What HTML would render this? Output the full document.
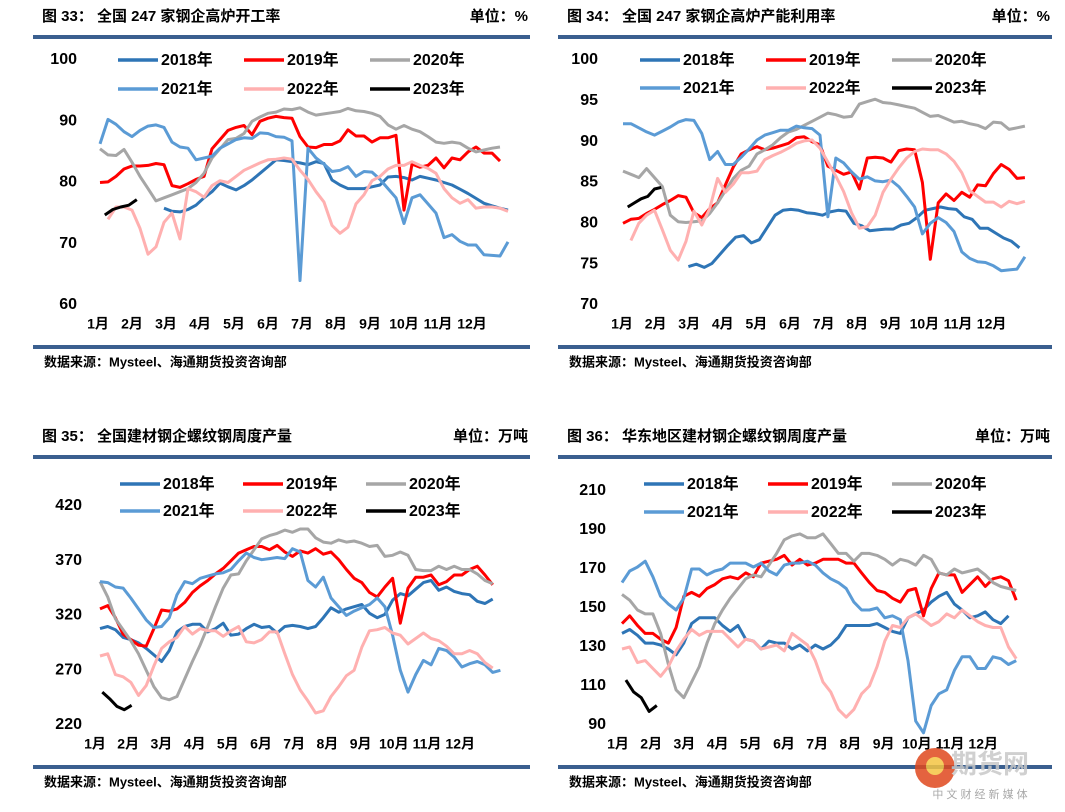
<!DOCTYPE html>
<html><head><meta charset="utf-8">
<style>
body{margin:0;width:1065px;height:812px;background:#fff;overflow:hidden;font-family:"Liberation Sans","Noto Sans CJK SC",sans-serif;}
svg{position:absolute;left:0;top:0}
</style></head>
<body>
<svg id="root" width="1065" height="812" viewBox="0 0 1065 812"></svg>
<script>
// ---------- data (weekly values; each series starts at its start week) ----------
const years = ["2018年","2019年","2020年","2021年","2022年","2023年"];
const months = ["1月","2月","3月","4月","5月","6月","7月","8月","9月","10月","11月","12月"];

const c1Ticks = [60,70,80,90,100];
const c1Start = [8,0,0,0,1,0.6];
const c1_2018 = [75.8,75.3,75.2,75.6,76.3,77.5,78.5,79.9,79.3,78.8,79.5,80.4,81.5,82.6,83.7,83.6,83.4,83.2,82.9,83.4,83.1,80.4,79.6,79,79,79,79.3,79.6,80.9,81,80.8,80.4,81,80.7,80.4,80,79.6,78.9,78.2,77.4,76.6,76.2,75.8,75.5];
const c1_2019 = [80,80.1,81,82.2,82.7,82.7,82.8,83.1,82.9,79.5,79.2,79.8,80.5,81,85.5,87,88.5,89,89.3,87.8,90,90.5,90.8,90.6,90.5,87.5,85.8,85.7,86.2,86.2,86.8,88.6,87.6,87.6,86.6,87.3,87.3,87.7,75.5,83,82.5,82.8,84,82.4,84,83.7,85,85.8,84.8,84.8,83.5];
const c1_2020 = [85.5,84.5,84.4,85.4,83.3,81,79,77,77.5,78,78.5,79,80,81.5,84,85.5,87,87.2,88,90,90.7,91.3,91.5,92,91.9,92.2,91.5,91,91.2,91.4,91.6,92.1,91.7,91.6,91.3,90.8,89.4,88.7,89.3,88.7,88.3,87.5,86.6,86.4,86.6,86.4,85.6,85,85.3,85.6,85.8];
const c1_2021 = [86.3,90.3,89.5,88.3,87.5,88.5,89.2,89.4,89,86.6,85.8,85.6,83.7,84,84.3,85.6,86.3,87,87.3,87.2,88.1,88,87.5,87.4,86.8,64,85.6,84,83,81.8,82,82.6,81,81.8,81.7,80.5,79,77.5,73.3,77.5,78,76.5,75,71,71.5,70.4,69.8,69.8,68.2,68.1,68,70.3];
const c1_2022 = [74,76,76,75.5,72.5,68.3,69.5,73.5,75,70.8,79,78.5,77.6,79.5,80.3,80,81,82,82.6,83.2,83.7,83.8,84,83.8,82,80.5,78.5,76.8,73,71.7,72.7,76.5,78,80.3,81,82.2,82.8,82.8,83.4,82.8,82.3,81.5,79,77.5,76.6,77.2,75.8,76,76,75.8,75.3];
const c1_2023 = [74.7,75.6,76,76.3,77.2];

const c2Ticks = [70,75,80,85,90,95,100];
const c2Start = [8.3,0,0,0,1,0.6];
const c2_2018 = [74.7,75,74.6,75.1,76.2,77.3,78.3,78.5,77.6,78,79.5,81,81.6,81.7,81.6,81.3,81.2,81,81.4,81.6,81.5,80,79.7,79.1,79.2,79.3,79.3,79.8,80,80.7,81.6,81.8,82,81.8,81.7,80.8,80.5,79.4,79.4,78.8,78.2,77.8,77];
const c2_2019 = [80,80.5,80.6,81.2,81.7,82.3,82.8,83.4,83.2,81.3,80.7,81.8,82.5,84.7,86.9,88.5,89,89.4,89,89.2,89.5,89.8,90.5,90.6,90,89.6,87,86.5,86,86.3,84.2,88,88.1,88,87.5,88.9,89.1,89,85,75.6,82.5,83.6,82.8,83.8,83.2,84.7,84.6,86.1,87.2,86.6,85.5,85.6];
const c2_2020 = [86.4,86,85.6,86.7,85.6,84.5,81,80.2,80.1,80.2,80.3,81.2,82.5,84,85.5,86.5,87,88.5,89,89.6,90.5,91.2,91.5,92,92.5,93,93.5,93.3,93,93.1,94.6,94.9,95.2,94.8,94.7,94.5,94.3,94.1,93.6,93.1,93.2,92.8,92.4,92.5,92.2,92,91.6,92.4,92.3,91.5,91.7,91.9];
const c2_2021 = [92.2,92.2,91.7,91.2,90.8,91.3,91.8,92.4,92.7,92.6,91,87.8,88.8,87.2,87.2,88.1,89.1,90.2,90.8,91.1,91.4,91.4,91.9,91.7,91.6,90.8,80.8,88,87.4,86.3,85.4,85.7,85.2,85.1,85.3,84.5,83.3,82,78.7,80,80.7,80.1,79,76.5,75.7,75.3,75.2,74.8,74.2,74.3,74.4,75.9];
const c2_2022 = [77.9,80,81,81.6,79.2,76.7,75.5,77.8,81.5,79.8,81.8,85.5,83.8,84.8,86.2,86.2,86.4,87.8,88.3,88.7,89.2,89.8,90.1,90.2,89.2,87.5,85.8,83.9,81.3,79.4,79.6,81,83.8,85.4,86.8,88,88.8,89.1,89,89,88.5,87.6,86.2,84,83.3,82.6,82.6,82,82.7,82.4,82.7];
const c2_2023 = [82,82.5,83,83.3,84.2,84.4];

const c3Ticks = [220,270,320,370,420];
const c3Start = [0,0,0,0,0,0.3];
const c3_2018 = [308,310,307,300,298,295,290,284,278,288,305,310,312,312,305,308,313,302,303,308,312,309,310,304,310,311,310,308,310,318,327,323,326,328,330,322,318,321,334,340,338,344,350,352,343,346,342,340,339,333,331,335];
const c3_2019 = [326,329,318,303,298,293,292,308,325,324,326,332,341,347,352,358,363,370,377,380,383,383,380,384,378,374,379,377,381,376,378,371,362,354,350,341,337,346,354,313,345,355,355,357,348,351,357,357,362,365,357,348];
const c3_2020 = [351,337,317,307,297,285,270,255,245,243,246,262,278,293,310,328,345,357,358,370,380,390,393,395,398,396,399,399,391,387,386,389,387,388,386,383,384,374,375,378,375,362,361,361,365,362,365,362,362,358,352,349];
const c3_2021 = [351,350,346,345,336,326,316,309,310,318,339,351,349,354,356,358,359,362,370,377,373,371,372,373,372,381,378,352,346,355,336,328,320,324,327,330,336,328,302,270,250,266,279,275,290,288,282,273,276,278,275,268,270];
const c3_2022 = [283,285,266,264,259,247,256,274,290,296,300,310,303,308,306,306,301,306,310,296,295,298,305,305,285,266,252,242,231,233,246,255,265,270,291,306,307,309,304,302,294,299,304,299,297,292,285,285,288,285,277,272];
const c3_2023 = [250,244,237,234,238];

const c4Ticks = [90,110,130,150,170,190,210];
const c4Start = [0,0,0,0,0,0.5];
const c4_2018 = [137,139,136,132,132,131,129,126,132,142,145,145,145,141,138,141,134,133,129,133,132,132,129,131,128,131,129,131,135,141,141,141,141,142,140,138,137,145,147,149,153,156,158,152,149,145,146,148,144,142,146];
const c4_2019 = [142,146,141,137,137,134,132,140,156,158,156,160,162,165,166,165,168,166,173,174,175,177,172,175,172,173,175,175,175,173,173,168,163,159,158,155,153,159,160,146,160,168,167,167,158,162,166,161,165,166,164,154];
const c4_2020 = [157,154,149,147,147,137,121,108,104,112,120,132,142,149,155,160,165,167,166,172,178,185,187,188,186,186,188,183,178,178,174,178,178,177,175,172,175,174,172,177,175,168,167,170,168,169,170,167,163,161,160,159];
const c4_2021 = [163,169,171,174,166,156,152,149,155,170,170,167,169,170,173,173,173,171,173,169,167,172,173,173,174,172,168,165,163,160,153,149,149,150,145,146,144,123,92,86,100,106,108,118,125,125,119,119,125,124,121,123];
const c4_2022 = [129,130,122,123,119,115,120,128,134,139,136,138,138,138,134,130,134,133,129,130,131,128,137,134,131,123,112,107,98,94,98,106,110,120,133,141,140,145,147,144,141,143,147,145,149,146,143,141,140,140,130,124];
const c4_2023 = [113,107,104,97,100];

// ---------- rendering ----------
const NS="http://www.w3.org/2000/svg";
const root=document.getElementById('root');
const colors=["#2e75b6","#ff0000","#a6a6a6","#5b9bd5","#ffb0b0","#000000"];
function mk(tag,attrs,parent){const e=document.createElementNS(NS,tag);for(const k in attrs)e.setAttribute(k,attrs[k]);(parent||root).appendChild(e);return e;}
function txt(x,y,s,size,anchor,parent,weight){const t=mk('text',{x:x,y:y,'font-size':size,'font-weight':weight||'bold','text-anchor':anchor||'start','fill':'#000','dominant-baseline':'middle','font-family':'"Liberation Sans","Noto Sans CJK SC",sans-serif'},parent);t.textContent=s;return t;}

function panel(cfg){
  const g=mk('g',{});
  
  
  const t1=txt(cfg.px+12,cfg.py+17,cfg.title,15,'start',g);
  
  
  const t2=txt(cfg.px+cfg.pw-2,cfg.py+17,cfg.unit,15,'end',g);
  
  
  const r1=mk('rect',{x:cfg.px+3,y:cfg.py+35,width:cfg.pw-3,height:4,fill:'#3a5f8f'},g);
  
  
  const r2=mk('rect',{x:cfg.px+3,y:cfg.py+345,width:cfg.pw-3,height:4,fill:'#3a5f8f'},g);
  
  
  const src=txt(cfg.px+14,cfg.py+363,'数据来源：Mysteel、海通期货投资咨询部',13,'start',g);
  
  
  const yv=v=>cfg.y0px+(v-cfg.y0)*(cfg.y1px-cfg.y0px)/(cfg.y1-cfg.y0);
  const xw=w=>cfg.x0+w*cfg.dx;
  cfg.ticks.forEach(v=>{const t=txt(cfg.tickX,yv(v),String(v),16,'end',g);
    
    });
  months.forEach((m,i)=>{const t=txt(cfg.m0+i*cfg.mdx,cfg.my,m,14,'middle',g);
    
    });
  cfg.series.forEach((vals,si)=>{
    const st=cfg.starts[si];
    let step = si===5 ? cfg.step23 : 1;
    const d=vals.map((v,i)=>(i?'L':'M')+xw(st+i*step).toFixed(1)+','+yv(v).toFixed(1)).join(' ');
    const p=mk('path',{d:d,fill:'none',stroke:colors[si],'stroke-width':3,'stroke-linejoin':'round'},g);
    
    
  });
  years.forEach((y,i)=>{
    const col=i%3,row=Math.floor(i/3);
    const lx=cfg.lx+col*cfg.ldx, ly=cfg.ly+row*cfg.ldy;
    const lg=mk('g',{},g);
    
    
    mk('line',{x1:lx,y1:ly,x2:lx+40,y2:ly,stroke:colors[i],'stroke-width':3.5},lg);
    txt(lx+43,ly+1,y,16,'start',lg);
  });
}

panel({name:'chart-blast-furnace-operating-rate',px:30,py:0,pw:500,title:'图  33：    全国 247 家钢企高炉开工率',unit:'单位：%',
  ticks:c1Ticks,y0:60,y1:100,y0px:305,y1px:60,tickX:77,x0:100,dx:8.0,m0:98,mdx:34,my:325,
  series:[c1_2018,c1_2019,c1_2020,c1_2021,c1_2022,c1_2023],starts:c1Start,step23:1,lx:118,ly:60,ldx:126,ldy:29});
panel({name:'chart-blast-furnace-capacity-utilization',px:555,py:0,pw:497,title:'图  34：    全国 247 家钢企高炉产能利用率',unit:'单位：%',
  ticks:c2Ticks,y0:70,y1:100,y0px:305,y1px:60,tickX:598,x0:623,dx:7.88,m0:622,mdx:33.6,my:325,
  series:[c2_2018,c2_2019,c2_2020,c2_2021,c2_2022,c2_2023],starts:c2Start,step23:0.85,lx:640,ly:60,ldx:126,ldy:28});
panel({name:'chart-national-rebar-output',px:30,py:420,pw:500,title:'图  35：    全国建材钢企螺纹钢周度产量',unit:'单位：万吨',
  ticks:c3Ticks,y0:220,y1:420,y0px:725,y1px:506,tickX:82,x0:100,dx:7.7,m0:95,mdx:33.2,my:745,
  series:[c3_2018,c3_2019,c3_2020,c3_2021,c3_2022,c3_2023],starts:c3Start,step23:0.95,lx:120,ly:484,ldx:123,ldy:27});
panel({name:'chart-east-china-rebar-output',px:555,py:420,pw:497,title:'图  36：    华东地区建材钢企螺纹钢周度产量',unit:'单位：万吨',
  ticks:c4Ticks,y0:90,y1:210,y0px:725,y1px:491,tickX:606,x0:622,dx:7.73,m0:618,mdx:33.2,my:745,
  series:[c4_2018,c4_2019,c4_2020,c4_2021,c4_2022,c4_2023],starts:c4Start,step23:1,lx:644,ly:484,ldx:124,ldy:28});

const wm=mk('g',{opacity:0.85});


mk('circle',{cx:935,cy:768,r:20,fill:'#e0481e'},wm);
mk('circle',{cx:935,cy:766,r:9,fill:'#f5c542'},wm);
const wt=txt(990,766,'期货网',26,'middle',wm);wt.setAttribute('fill','#c8c8c8');
const wt2=txt(980,795,'中 文 财 经 新 媒 体',11,'middle',wm,'normal');wt2.setAttribute('fill','#999');
</script>
</body></html>
